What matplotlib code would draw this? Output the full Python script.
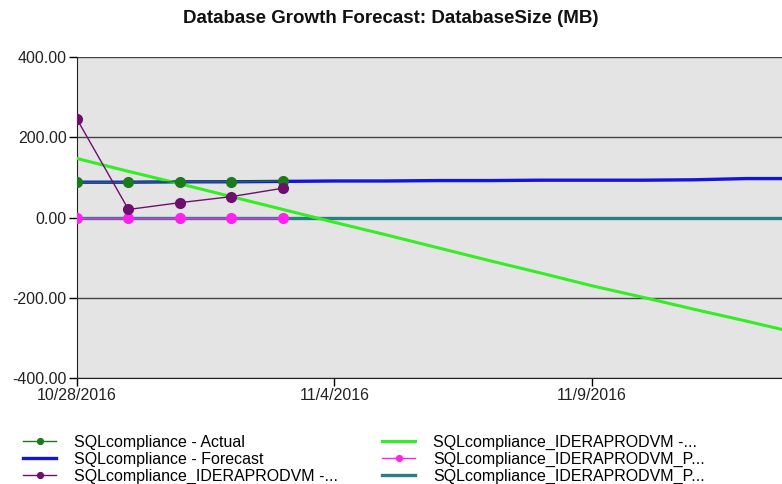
import matplotlib.pyplot as plt

# category labels on x (only every 5th one shown)
dates = ['10/28/2016', '10/31/2016', '11/1/2016', '11/2/2016', '11/3/2016',
         '11/4/2016', '11/5/2016', '11/6/2016', '11/7/2016', '11/8/2016',
         '11/9/2016', '11/10/2016', '11/11/2016', '11/12/2016', '11/13/2016']
shown_ticks = ['10/28/2016', '11/4/2016', '11/9/2016']

actual = [88, 88, 89, 89, 91]
forecast = [88, 88, 89, 89, 90, 91, 91, 92, 92, 93, 93, 93, 94, 97, 97]
idera_actual = [245, 20, 37, 52, 73]
idera_forecast = [147, 115, 84, 52, 20, -12, -43, -75, -107, -138, -170, -199, -229, -258, -288]
idera_p_actual = [0, 0, 0, 0, 0]
idera_p_forecast = [0] * 15

yticks = [-400, -200, 0, 200, 400]

plt.rcParams['font.family'] = ['Liberation Sans', 'DejaVu Sans']

fig = plt.figure(figsize=(7.82, 4.84), dpi=100)
ax = fig.add_axes([77 / 782, 1 - 378 / 484, 1 - 77 / 782 + 0.01, (378 - 57) / 484])
ax.set_facecolor('#e4e4e4')

x_all = list(range(len(dates)))
x_act = list(range(len(actual)))

l1, = ax.plot(x_act, actual, color='#1b7a1b', lw=1, marker='o', ms=7, zorder=5,
              label='SQLcompliance - Actual')
l2, = ax.plot(x_all, forecast, color='#1414e0', lw=2.4, zorder=3,
              label='SQLcompliance - Forecast')
l3, = ax.plot(x_act, idera_actual, color='#6e0f6e', lw=1, marker='o', ms=7, zorder=6,
              label='SQLcompliance_IDERAPRODVM -...')
l4, = ax.plot(x_all, idera_forecast, color='#33ee22', lw=2.2, zorder=4,
              label='SQLcompliance_IDERAPRODVM -...')
l5, = ax.plot(x_act, idera_p_actual, color='#ff22ee', lw=1, marker='o', ms=7, zorder=5,
              label='SQLcompliance_IDERAPRODVM_P...')
l6, = ax.plot(x_all, idera_p_forecast, color='#2a8080', lw=2.4, zorder=3,
              label='SQLcompliance_IDERAPRODVM_P...')

ax.set_xlim(0, 13.85)
ax.set_ylim(-400, 400)
ax.set_yticks(yticks)
ax.set_yticklabels(['%.2f' % v for v in yticks], fontsize=11.5, color='#222222')
ax.set_xticks([dates.index(d) for d in shown_ticks])
ax.set_xticklabels(shown_ticks, fontsize=11.5, color='#222222')
ax.tick_params(axis='both', length=6, width=1, direction='out', pad=1.5)
ax.yaxis.grid(True, color='#444444', lw=1)
ax.set_axisbelow(True)
for s in ['top', 'right']:
    ax.spines[s].set_visible(False)
ax.spines['left'].set_color('#222222')
ax.spines['bottom'].set_color('#222222')

fig.text(0.5, 0.962, 'Database Growth Forecast: DatabaseSize (MB)', ha='center', va='center',
         fontsize=13.5, fontweight='bold', color='#111111')

fig.legend(handles=[l1, l2, l3, l4, l5, l6], loc='upper left', bbox_to_anchor=(0.019, 0.118),
           ncol=2, frameon=False, fontsize=11.5, handlelength=2.1, handletextpad=1.1,
           columnspacing=2.75, labelspacing=0.12, markerscale=0.6, borderpad=0)

fig.savefig('out.png', dpi=100)
